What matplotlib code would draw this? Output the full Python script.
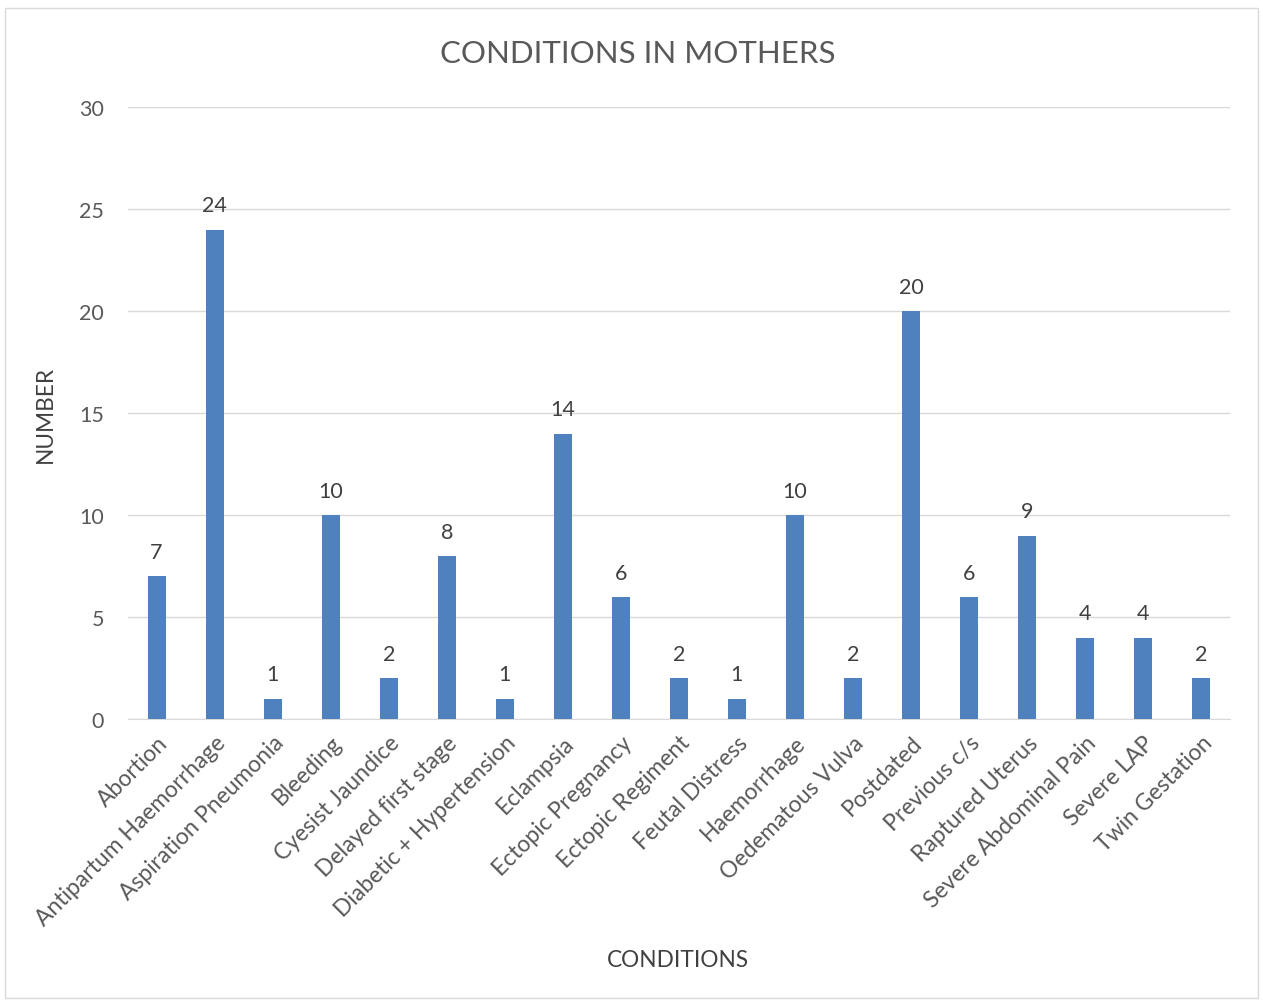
import numpy as np
import matplotlib.pyplot as plt
from matplotlib.patches import Rectangle

plt.rcParams['font.family'] = ['Lato', 'DejaVu Sans']

# data
conditions = ['Abortion', 'Antipartum Haemorrhage', 'Aspiration Pneumonia', 'Bleeding',
              'Cyesist Jaundice', 'Delayed first stage', 'Diabetic + Hypertension',
              'Eclampsia', 'Ectopic Pregnancy', 'Ectopic Regiment', 'Feutal Distress',
              'Haemorrhage', 'Oedematous Vulva', 'Postdated', 'Previous c/s',
              'Raptured Uterus', 'Severe Abdominal Pain', 'Severe LAP', 'Twin Gestation']
counts = [7, 24, 1, 10, 2, 8, 1, 14, 6, 2, 1, 10, 2, 20, 6, 9, 4, 4, 2]
yticks = [0, 5, 10, 15, 20, 25, 30]

fig = plt.figure(figsize=(12.63, 10.03), dpi=100)
ax = fig.add_axes([0.101, 0.282, 0.873, 0.610])

x = np.arange(len(conditions))
bars = ax.bar(x, counts, width=0.31, color='#4e81bd', zorder=3)

# value labels on top of bars
for xi, v in zip(x, counts):
    ax.text(xi, v + 0.7, str(v), ha='center', va='bottom', fontsize=15.5, color='#404040')

ax.set_xlim(-0.5, len(conditions) - 0.5)
ax.set_ylim(0, 30)
ax.set_yticks(yticks)
ax.set_yticklabels([str(t) for t in yticks], fontsize=15.5, color='#595959')
ax.set_xticks(x)
ax.set_xticklabels(conditions, rotation=45, ha='right', rotation_mode='anchor',
                   fontsize=16.5, color='#595959')
ax.tick_params(axis='both', length=0)
ax.tick_params(axis='y', pad=17)
ax.tick_params(axis='x', pad=9)

# grid
ax.grid(axis='y', color='#d9d9d9', linewidth=1, zorder=0)
for s in ['top', 'right', 'left']:
    ax.spines[s].set_visible(False)
ax.spines['bottom'].set_color('#d9d9d9')

# titles
fig.text(0.505, 0.946, 'CONDITIONS IN MOTHERS', ha='center', va='center',
         fontsize=22.5, color='#595959')
fig.text(0.537, 0.042, 'CONDITIONS', ha='center', va='center', fontsize=16.3, color='#404040')
fig.text(0.036, 0.587, 'NUMBER', ha='center', va='center', rotation=90,
         fontsize=16.3, color='#404040')

# chart border
fig.patches.append(Rectangle((0.004, 0.004), 0.992, 0.987, transform=fig.transFigure,
                             fill=False, edgecolor='#d9d9d9', linewidth=1))

fig.savefig('out.png', dpi=100)
